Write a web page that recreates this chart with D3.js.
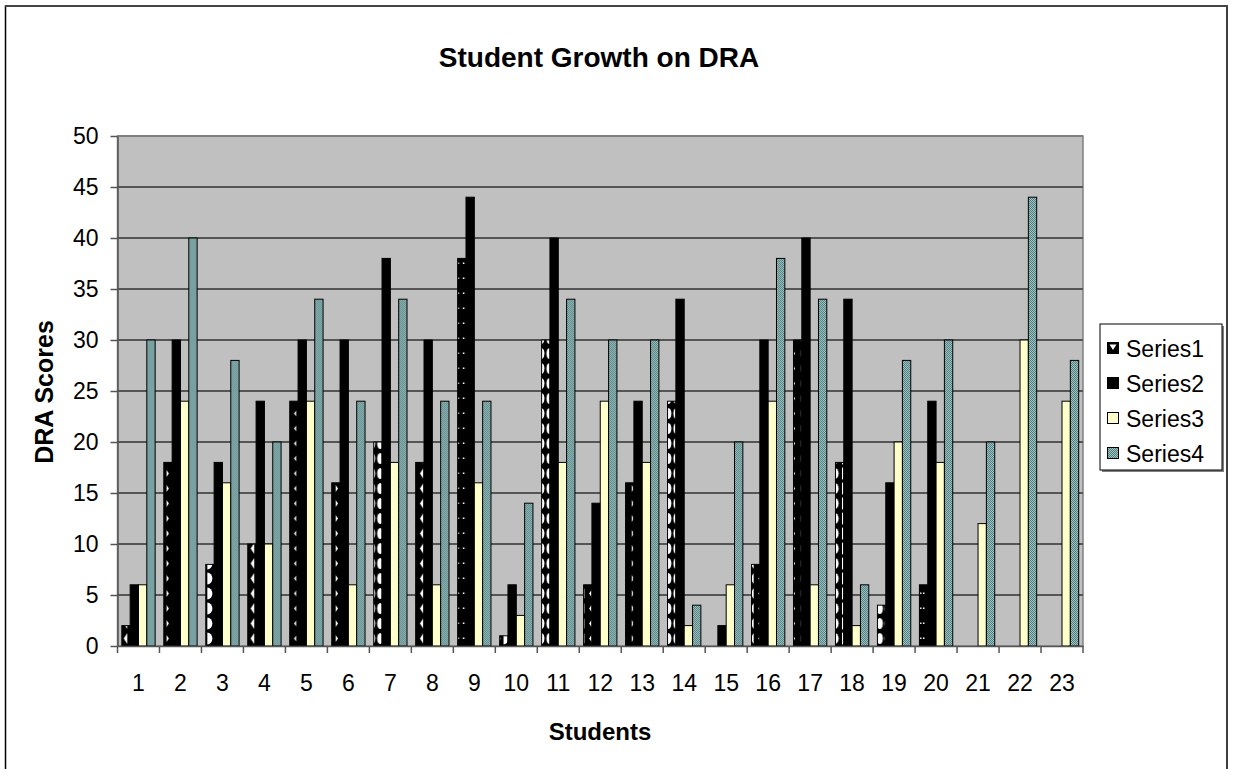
<!DOCTYPE html>
<html>
<head>
<meta charset="utf-8">
<script src="https://cdn.jsdelivr.net/npm/d3@7"></script>
<style>
  html, body { margin: 0; padding: 0; background: #fff; }
  svg { display: block; font-family: Arial, "Liberation Sans", sans-serif; }
</style>
</head>
<body>
<svg id="chart" width="1233" height="769"></svg>
<script>
// Student DRA scores, four assessments per student
const students = d3.range(1, 24).map(String);
const seriesNames = ["Series1", "Series2", "Series3", "Series4"];
const series1 = [2, 18, 8, 10, 24, 16, 20, 18, 38, 1, 30, 6, 16, 24, 0, 8, 30, 18, 4, 6, 0, 0, 0];
const series2 = [6, 30, 18, 24, 30, 30, 38, 30, 44, 6, 40, 14, 24, 34, 2, 30, 40, 34, 16, 24, 0, 0, 0];
const series3 = [6, 24, 16, 10, 24, 6, 18, 6, 16, 3, 18, 24, 18, 2, 6, 24, 6, 2, 20, 18, 12, 30, 24];
const series4 = [30, 40, 28, 20, 34, 24, 34, 24, 24, 14, 34, 30, 30, 4, 20, 38, 34, 6, 28, 30, 20, 44, 28];
const yTicks = [0, 5, 10, 15, 20, 25, 30, 35, 40, 45, 50];

const allSeries = [series1, series2, series3, series4];

// motif used inside each Series1 bar (one per student)
const motifs = ["triL", "triR", "semi", "triL", "triLs", "triR", "oval", "triL", "dots", "semi",
                "oval", "triL", "triR", "oval", "semi", "triL", "triR", "semi", "oval", "dots",
                "semi", "semi", "semi"];

const svg = d3.select("#chart");
const defs = svg.append("defs");

const plot = { left: 117.5, right: 1083, top: 136, bottom: 646 };

// outer chart frame
svg.append("path")
  .attr("d", `M5.5,775 V6 H1227 V775`)
  .attr("fill", "none").attr("stroke", "#000").attr("stroke-width", 1.5);
svg.append("line").attr("x1", 5).attr("x2", 1227.5).attr("y1", 6).attr("y2", 6)
  .attr("stroke", "#444").attr("stroke-width", 2);

const x0 = d3.scaleBand().domain(students).range([plot.left, plot.right]).paddingInner(0).paddingOuter(0);
const x1 = d3.scaleBand().domain(seriesNames).range([0, x0.bandwidth()]).paddingInner(0).paddingOuter(0.52);
const y = d3.scaleLinear().domain([0, 50]).range([plot.bottom, plot.top]);

// plot background
svg.append("rect")
  .attr("x", plot.left).attr("y", plot.top)
  .attr("width", plot.right - plot.left).attr("height", plot.bottom - plot.top)
  .attr("fill", "#c0c0c0").attr("stroke", "#808080").attr("stroke-width", 1.5);

// horizontal gridlines
svg.append("g").selectAll("line").data(yTicks.filter(d => d > 0)).join("line")
  .attr("x1", plot.left).attr("x2", plot.right)
  .attr("y1", d => y(d)).attr("y2", d => y(d))
  .attr("stroke", d => d === 50 ? "#808080" : "#555").attr("stroke-width", 2);

// checker pattern for Series4
const p4 = defs.append("pattern").attr("id", "pat4")
  .attr("patternUnits", "userSpaceOnUse").attr("width", 2).attr("height", 2);
p4.append("rect").attr("width", 2).attr("height", 2).attr("fill", "#4b7b7b");
p4.append("rect").attr("width", 1).attr("height", 1).attr("fill", "#a6c6c6");
p4.append("rect").attr("x", 1).attr("y", 1).attr("width", 1).attr("height", 1).attr("fill", "#a6c6c6");

// Series1 bar patterns: black with white motifs
function makeMotifPattern(id, type, bx, bw) {
  const p = defs.append("pattern").attr("id", id)
    .attr("patternUnits", "userSpaceOnUse")
    .attr("x", bx).attr("y", plot.bottom).attr("width", bw).attr("height", 15);
  p.append("rect").attr("width", bw).attr("height", 15).attr("fill", "#000");
  const w = "#fff";
  if (type === "triL") {
    p.append("path").attr("d", `M1,7.5 L${bw * 0.55},2 L${bw * 0.55},13 Z`).attr("fill", w);
  } else if (type === "triLs") {
    p.append("path").attr("d", `M${bw * 0.25},7.5 L${bw * 0.5},4.5 L${bw * 0.5},10.5 Z`).attr("fill", w);
  } else if (type === "triR") {
    p.append("path").attr("d", `M1.5,4 L${bw * 0.45},7.5 L1.5,11 Z`).attr("fill", w);
  } else if (type === "semi") {
    p.append("path").attr("d", `M0,1.5 A${bw * 0.6},6 0 0 1 0,13.5 Z`).attr("fill", w);
  } else if (type === "oval") {
    p.append("ellipse").attr("cx", bw * 0.45).attr("cy", 7.5).attr("rx", bw * 0.38).attr("ry", 5.5).attr("fill", w);
  } else if (type === "dots") {
    p.append("rect").attr("x", bw * 0.2).attr("y", 6.5).attr("width", 1.5).attr("height", 1.5).attr("fill", w);
    p.append("rect").attr("x", bw * 0.55).attr("y", 6.5).attr("width", 1.5).attr("height", 1.5).attr("fill", w);
  }
}

const fills = [null, "#000", "#ffffcc", "url(#pat4)"];

const groups = svg.append("g").selectAll("g").data(students).join("g")
  .attr("transform", d => `translate(${x0(d)},0)`);

groups.each(function (s, i) {
  const g = d3.select(this);
  seriesNames.forEach((name, k) => {
    const v = allSeries[k][i];
    if (v <= 0) return;
    const bx = x0(s) + x1(name);
    let fill = fills[k];
    if (k === 0) {
      const id = "pat1-" + i;
      makeMotifPattern(id, motifs[i], bx, x1.bandwidth());
      fill = `url(#${id})`;
    }
    g.append("rect")
      .attr("x", x1(name)).attr("width", x1.bandwidth())
      .attr("y", y(v)).attr("height", y(0) - y(v))
      .attr("fill", fill).attr("stroke", "#000").attr("stroke-width", 1);
  });
});

// y axis
const yAxis = svg.append("g").attr("transform", `translate(${plot.left},0)`)
  .call(d3.axisLeft(y).tickValues(yTicks).tickSize(7).tickPadding(12).tickSizeOuter(0));
yAxis.select(".domain").attr("stroke", "#555").attr("stroke-width", 1.5);
yAxis.selectAll(".tick line").attr("stroke", "#555").attr("stroke-width", 1.5);
yAxis.selectAll("text").attr("font-size", 23).attr("fill", "#000").attr("font-family", "Arial, 'Liberation Sans', sans-serif");

// x axis
const xAxis = svg.append("g").attr("transform", `translate(0,${plot.bottom})`)
  .call(d3.axisBottom(x0).tickSize(0).tickPadding(29));
xAxis.select(".domain").attr("stroke", "#555").attr("stroke-width", 1.5);
xAxis.selectAll("text").attr("font-size", 23).attr("fill", "#000").attr("font-family", "Arial, 'Liberation Sans', sans-serif");
// category separators on the x axis
svg.append("g").selectAll("line").data(students.concat(["end"])).join("line")
  .attr("x1", (d, i) => plot.left + i * x0.step()).attr("x2", (d, i) => plot.left + i * x0.step())
  .attr("y1", plot.bottom).attr("y2", plot.bottom + 7)
  .attr("stroke", "#555").attr("stroke-width", 1.5);

// titles
svg.append("text").attr("x", 599).attr("y", 67).attr("text-anchor", "middle")
  .attr("font-size", 28).attr("font-weight", "bold").text("Student Growth on DRA");
svg.append("text").attr("x", 600).attr("y", 740).attr("text-anchor", "middle")
  .attr("font-size", 24).attr("font-weight", "bold").text("Students");
svg.append("text").attr("transform", "translate(53,392) rotate(-90)").attr("text-anchor", "middle")
  .attr("font-size", 25).attr("font-weight", "bold").text("DRA Scores");

// legend
const lg = svg.append("g").attr("transform", "translate(1100,324)");
lg.append("rect").attr("x", 2).attr("y", 2).attr("width", 122).attr("height", 146).attr("fill", "#808080");
lg.append("rect").attr("width", 122).attr("height", 146).attr("fill", "#fff").attr("stroke", "#000").attr("stroke-width", 1);
const legendFills = ["#000", "#000", "#ffffcc", "url(#pat4)"];
seriesNames.forEach((name, k) => {
  const ly = 25 + k * 35;
  lg.append("rect").attr("x", 7.5).attr("y", ly - 6.5).attr("width", 11).attr("height", 11)
    .attr("fill", legendFills[k]).attr("stroke", "#000").attr("stroke-width", 1);
  if (k === 0) {
    lg.append("path").attr("d", `M9.5,${ly - 4.5} L16.5,${ly - 4.5} L13,${ly + 1} Z`).attr("fill", "#fff");
  }
  lg.append("text").attr("x", 26).attr("y", ly + 8).attr("font-size", 23).text(name);
});
</script>
</body>
</html>
